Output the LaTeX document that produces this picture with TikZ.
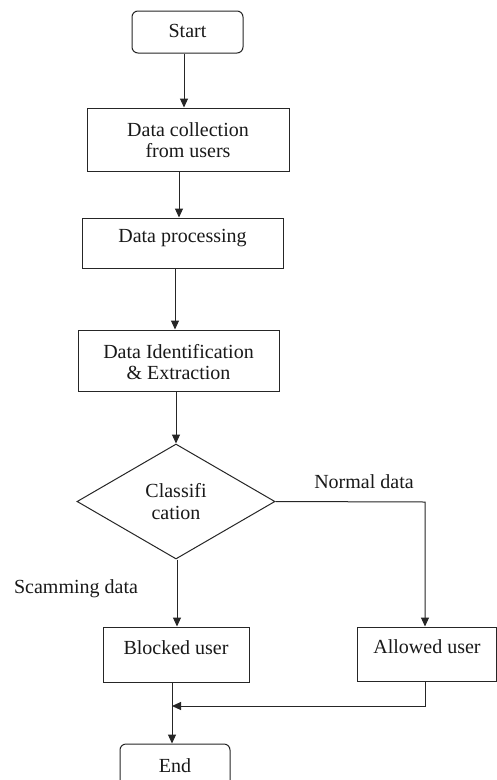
\documentclass[tikz,border=0pt]{standalone}
\usepackage{fontspec}
\setmainfont{Liberation Serif}
\usetikzlibrary{shapes.geometric,arrows.meta}
\begin{document}
\begin{tikzpicture}[x=1pt,y=-1pt,
  every node/.style={font=\fontsize{20}{24}\selectfont, text=black!90},
  box/.style={draw=black!85, line width=1pt, rectangle, inner sep=0pt},
  term/.style={box, rounded corners=6pt},
  dec/.style={draw=black!85, line width=1pt, diamond, inner sep=0pt, minimum width=198pt, minimum height=115pt},
  txt/.style={align=center, inner sep=0pt},
  arr/.style={draw=black!85, line width=1pt, -{Triangle[length=9pt,width=8pt]}},
  ln/.style={draw=black!85, line width=1pt}
]
\useasboundingbox (0,0) rectangle (497,780);
\fill[white] (0,0) rectangle (497,780);

\node[term, minimum width=111pt, minimum height=42pt] (start) at (187.5,32) {};
\node[txt] (tstart) at (187.5,31) {Start};

\node[box, minimum width=202pt, minimum height=63pt] (dc) at (188,139.5) {};
\node[txt] (tdc) at (188,140) {Data collection\\[-3pt]from users};

\node[box, minimum width=201pt, minimum height=50pt] (dp) at (182.5,243) {};
\node[txt] (tdp) at (182.5,238) {Data processing};

\node[box, minimum width=201pt, minimum height=61pt] (di) at (178.5,360.5) {};
\node[txt] (tdi) at (178.5,362) {Data Identification\\[-3pt]\&~Extraction};

\node[dec] (cls) at (176,501.5) {};
\node[txt] (tcls) at (176,502) {Classifi\\[-2pt]cation};

\node[box, minimum width=146pt, minimum height=55pt] (blk) at (176,654.5) {};
\node[txt] (tblk) at (176,648) {Blocked user};

\node[box, minimum width=139pt, minimum height=54pt] (alw) at (427,654) {};
\node[txt] (talw) at (427,647) {Allowed user};

\node[term, minimum width=110pt, minimum height=60pt] (end) at (175,774) {};
\node[txt] (tend) at (175,766) {End};

\node[txt] (lnorm) at (364,482) {Normal data};
\node[txt] (lscam) at (76,589) {Scamming data};

\draw[arr] ([xshift=-3.5pt]start.south) -- ([xshift=-4pt]dc.north);
\draw[arr] ([xshift=-9pt]dc.south) -- ([xshift=-3.5pt]dp.north);
\draw[arr] ([xshift=-7.5pt]dp.south) -- ([xshift=-3.5pt]di.north);
\draw[arr] ([xshift=-2.5pt]di.south) -- (cls.north);
\draw[arr] ([xshift=1pt]cls.south) -- ([xshift=1pt]blk.north);
\coordinate (rc) at (425,502);
\draw[arr] (cls.east) -- (rc) -- ([xshift=-2pt]alw.north);
\draw[arr] ([xshift=-4pt]blk.south) -- ([xshift=-3pt]end.north);
\coordinate (jn) at (172,706);
\draw[ln] ([xshift=-2pt]alw.south) |- ([xshift=8pt]jn);
\draw[arr] ([xshift=8pt]jn) -- (jn);
\end{tikzpicture}
\end{document}
